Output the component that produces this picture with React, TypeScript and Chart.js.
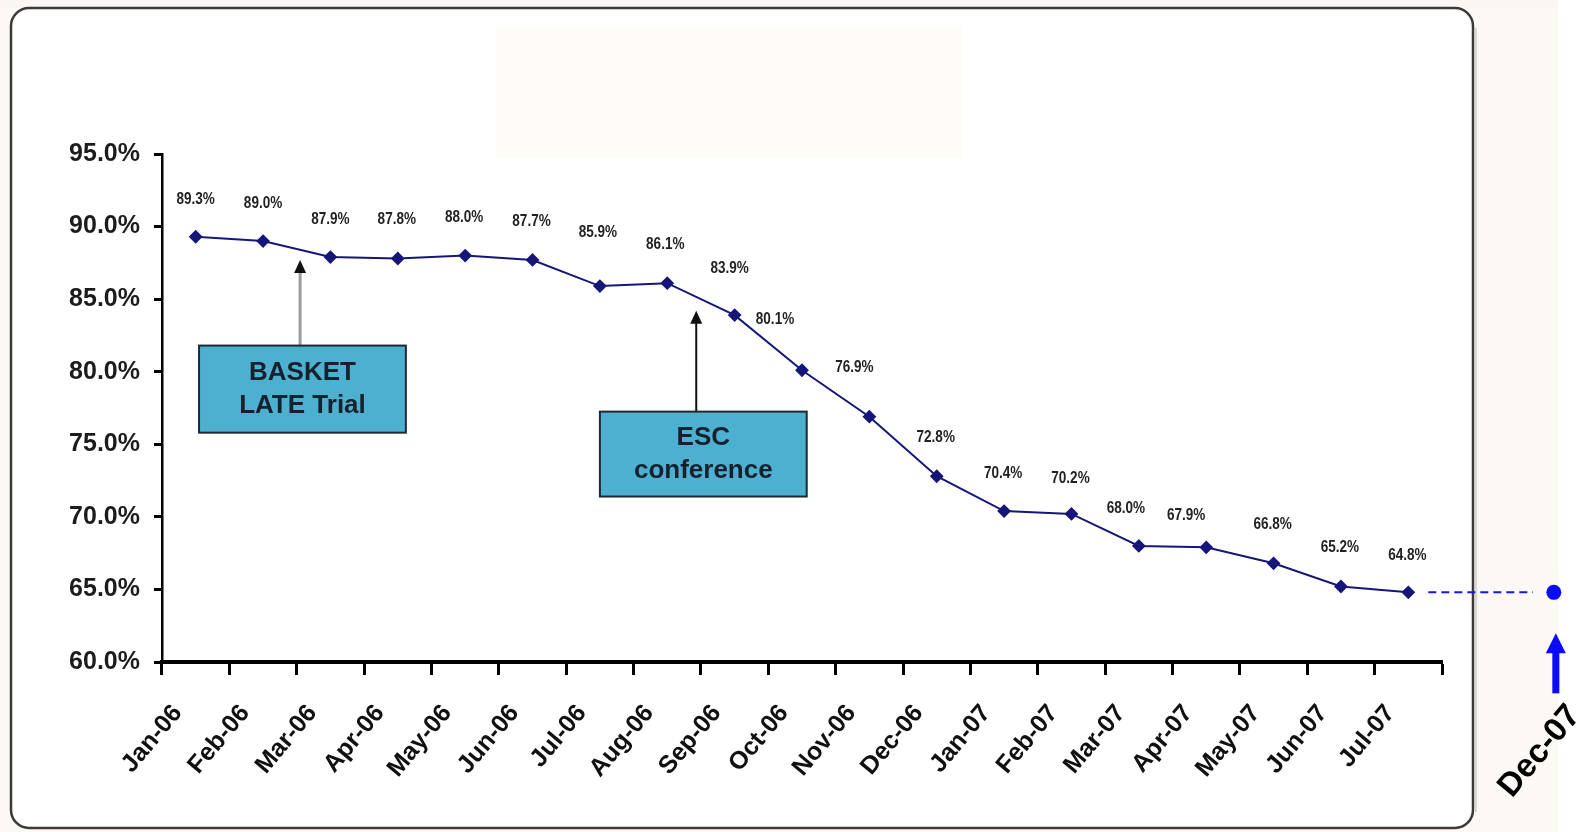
import React, { useEffect, useRef } from "react";
import { Chart, registerables } from "chart.js";

Chart.register(...registerables);

// Monthly retention series
const MONTHS = [
  "Jan-06", "Feb-06", "Mar-06", "Apr-06", "May-06", "Jun-06", "Jul-06", "Aug-06", "Sep-06", "Oct-06",
  "Nov-06", "Dec-06", "Jan-07", "Feb-07", "Mar-07", "Apr-07", "May-07", "Jun-07", "Jul-07",
];
const RETENTION = [
  89.3, 89.0, 87.9, 87.8, 88.0, 87.7, 85.9, 86.1, 83.9, 80.1,
  76.9, 72.8, 70.4, 70.2, 68.0, 67.9, 66.8, 65.2, 64.8,
];
const Y_TICKS = [60, 65, 70, 75, 80, 85, 90, 95];

// Projected end-of-year point
const TARGET_LABEL = "Dec-07";
const TARGET_VALUE = 64.8;

// Pixel nudges for the value labels (dx, dy from each point)
const LABEL_NUDGE: [number, number][] = [
  [0, -37], [0, -38], [0, -38], [-1, -39], [-1, -38], [-1, -39], [-2, -54], [-2, -39], [-5, -47], [-27, -51],
  [-15, -49], [-1, -39], [-1, -38], [-1, -36], [-13, -37], [-20, -32], [-1, -39], [-1, -39], [-1, -37],
];

// Event call-outs, positioned in category-index / value space
const EVENTS = [
  { lines: ["BASKET", "LATE Trial"], at: 1.55, tip: 87.7, from: 0.05, to: 3.12, top: 81.8, bottom: 75.8, stem: "#9c9c9c", stemWidth: 3 },
  { lines: ["ESC", "conference"], at: 7.43, tip: 84.2, from: 6.0, to: 9.07, top: 77.25, bottom: 71.4, stem: "#111111", stemWidth: 2 },
];

const FONT = "'Liberation Sans', Arial, sans-serif";
const LINE_COLOR = "#16167a";

function roundRect(ctx: CanvasRenderingContext2D, x: number, y: number, w: number, h: number, r: number) {
  ctx.beginPath();
  ctx.moveTo(x + r, y);
  ctx.lineTo(x + w - r, y);
  ctx.arcTo(x + w, y, x + w, y + r, r);
  ctx.lineTo(x + w, y + h - r);
  ctx.arcTo(x + w, y + h, x + w - r, y + h, r);
  ctx.lineTo(x + r, y + h);
  ctx.arcTo(x, y + h, x, y + h - r, r);
  ctx.lineTo(x, y + r);
  ctx.arcTo(x, y, x + r, y, r);
  ctx.closePath();
}

function upArrowHead(ctx: CanvasRenderingContext2D, x: number, tipY: number, w: number, h: number, color: string) {
  ctx.beginPath();
  ctx.moveTo(x, tipY);
  ctx.lineTo(x + w / 2, tipY + h);
  ctx.lineTo(x - w / 2, tipY + h);
  ctx.closePath();
  ctx.fillStyle = color;
  ctx.fill();
}

const decor = {
  id: "decor",
  beforeDraw(chart: any) {
    const { ctx, width, height } = chart;
    ctx.save();
    ctx.fillStyle = "#fcf9f4";
    ctx.fillRect(0, 0, width, height);
    ctx.fillStyle = "#ffffff";
    ctx.fillRect(1558, 0, width - 1558, height);
    ctx.fillStyle = "#fbf6f3";
    ctx.fillRect(0, 0, 1558, 7);
    roundRect(ctx, 11, 8, 1462, 820, 18);
    ctx.fillStyle = "#ffffff";
    ctx.fill();
    ctx.fillStyle = "#fffcf7";
    ctx.fillRect(496, 27, 466, 131);
    roundRect(ctx, 11, 8, 1462, 820, 18);
    ctx.lineWidth = 2.5;
    ctx.strokeStyle = "#3a3a3a";
    ctx.stroke();
    ctx.strokeStyle = "rgba(0,0,0,0.18)";
    ctx.lineWidth = 1.5;
    ctx.beginPath();
    ctx.moveTo(1476, 28);
    ctx.lineTo(1476, 812);
    ctx.stroke();
    ctx.restore();
  },
  afterDatasetsDraw(chart: any) {
    const { ctx } = chart;
    const xs = chart.scales.x;
    const ys = chart.scales.y;
    const x0 = xs.getPixelForValue(0);
    const step = xs.getPixelForValue(1) - x0;
    const xAt = (i: number) => x0 + i * step;

    // value labels
    const meta = chart.getDatasetMeta(0);
    ctx.save();
    ctx.fillStyle = "#222222";
    ctx.font = `bold 16.5px ${FONT}`;
    ctx.textAlign = "center";
    ctx.textBaseline = "middle";
    meta.data.forEach((pt: any, i: number) => {
      const [dx, dy] = LABEL_NUDGE[i] || [0, -38];
      ctx.save();
      ctx.translate(pt.x + dx, pt.y + dy);
      ctx.scale(0.82, 1);
      ctx.fillText(`${RETENTION[i].toFixed(1)}%`, 0, 0);
      ctx.restore();
    });
    ctx.restore();

    // event call-outs
    EVENTS.forEach((ev) => {
      const ax = xAt(ev.at);
      const tipY = ys.getPixelForValue(ev.tip);
      const bx1 = xAt(ev.from);
      const bx2 = xAt(ev.to);
      const by1 = ys.getPixelForValue(ev.top);
      const by2 = ys.getPixelForValue(ev.bottom);
      ctx.save();
      ctx.strokeStyle = ev.stem;
      ctx.lineWidth = ev.stemWidth;
      ctx.beginPath();
      ctx.moveTo(ax, by1);
      ctx.lineTo(ax, tipY + 10);
      ctx.stroke();
      upArrowHead(ctx, ax, tipY, 12, 13, "#111111");
      ctx.fillStyle = "#4db0cf";
      ctx.fillRect(bx1, by1, bx2 - bx1, by2 - by1);
      ctx.strokeStyle = "#1d2a36";
      ctx.lineWidth = 2;
      ctx.strokeRect(bx1, by1, bx2 - bx1, by2 - by1);
      ctx.fillStyle = "#17202e";
      ctx.font = `bold 26px ${FONT}`;
      ctx.textAlign = "center";
      ctx.textBaseline = "middle";
      const cx = (bx1 + bx2) / 2;
      const cy = (by1 + by2) / 2;
      ev.lines.forEach((line, k) => {
        ctx.fillText(line, cx, cy + (k - (ev.lines.length - 1) / 2) * 33);
      });
      ctx.restore();
    });

    // projected point with dashed continuation
    const last = meta.data[meta.data.length - 1];
    const ty = ys.getPixelForValue(TARGET_VALUE);
    const tx = xAt(20.16);
    ctx.save();
    ctx.strokeStyle = "#1414ff";
    ctx.lineWidth = 2;
    ctx.setLineDash([8, 5]);
    ctx.beginPath();
    ctx.moveTo(last.x + 20, ty);
    ctx.lineTo(xAt(19.85), ty);
    ctx.stroke();
    ctx.setLineDash([]);
    ctx.fillStyle = "#0a0aff";
    ctx.beginPath();
    ctx.arc(tx, ty, 7.5, 0, Math.PI * 2);
    ctx.fill();
    // arrow pointing up at the point
    const arX = tx + 2;
    ctx.fillRect(arX - 3.5, ty + 59, 7, 42);
    upArrowHead(ctx, arX, ty + 41, 20, 20, "#0a0aff");
    // rotated month label
    ctx.translate(tx - 14, ty + 159);
    ctx.rotate((-50 * Math.PI) / 180);
    ctx.fillStyle = "#000000";
    ctx.font = `bold 33px ${FONT}`;
    ctx.textAlign = "center";
    ctx.textBaseline = "middle";
    ctx.fillText(TARGET_LABEL, 0, 0);
    ctx.restore();
  },
};

export default function App() {
  const canvasRef = useRef<HTMLCanvasElement | null>(null);

  useEffect(() => {
    const canvas = canvasRef.current;
    if (!canvas) return;
    const chart = new Chart(canvas, {
      type: "line",
      data: {
        labels: MONTHS,
        datasets: [
          {
            data: RETENTION,
            borderColor: LINE_COLOR,
            backgroundColor: LINE_COLOR,
            borderWidth: 2,
            pointStyle: "rectRot",
            pointRadius: 5.5,
            pointBackgroundColor: LINE_COLOR,
            pointBorderColor: LINE_COLOR,
            tension: 0,
          },
        ],
      },
      options: {
        responsive: false,
        animation: false,
        layout: { padding: { left: 10, top: 154, right: 145, bottom: 0 } },
        plugins: { legend: { display: false }, tooltip: { enabled: false }, title: { display: false } },
        scales: {
          x: {
            offset: true,
            grid: {
              offset: true,
              drawOnChartArea: false,
              drawTicks: true,
              tickLength: 13,
              tickWidth: 3,
              tickColor: "#000000",
            },
            border: { display: true, color: "#000000", width: 4 },
            ticks: {
              autoSkip: false,
              minRotation: 50,
              maxRotation: 50,
              padding: 24,
              labelOffset: -18,
              color: "#111111",
              font: { family: FONT, size: 25, weight: "bold" },
            },
            afterFit(scale: any) {
              scale.height = 170;
            },
          },
          y: {
            min: 60,
            max: 95,
            grid: {
              drawOnChartArea: false,
              drawTicks: true,
              tickLength: 8,
              tickWidth: 3,
              tickColor: "#000000",
            },
            border: { display: true, color: "#000000", width: 2.5 },
            afterBuildTicks(scale: any) {
              scale.ticks = Y_TICKS.map((v) => ({ value: v }));
            },
            ticks: {
              padding: 14,
              color: "#1c1c1c",
              font: { family: FONT, size: 25, weight: "bold" },
              callback: (v: any) => `${Number(v).toFixed(1)}%`,
            },
            afterFit(scale: any) {
              scale.width = 152;
            },
          },
        },
      },
      plugins: [decor],
    });
    return () => chart.destroy();
  }, []);

  return (
    <div style={{ position: "absolute", left: 0, top: 0, width: 1587, height: 832 }}>
      <canvas ref={canvasRef} width={1587} height={832} style={{ display: "block" }} />
    </div>
  );
}
